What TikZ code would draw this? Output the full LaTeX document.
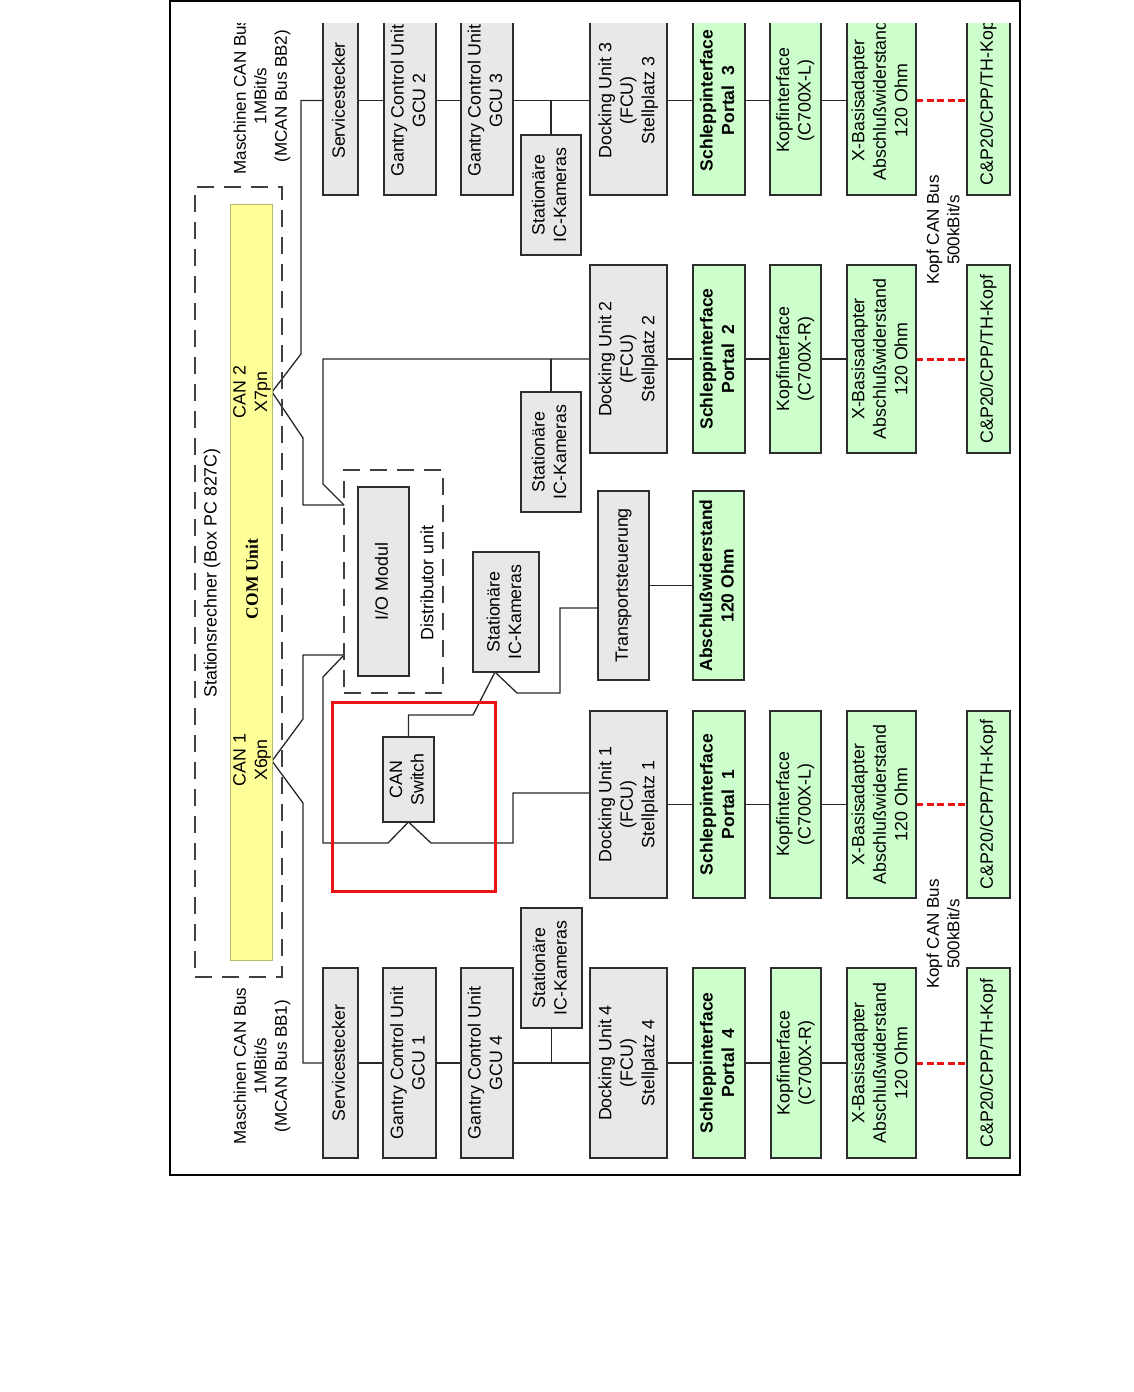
\documentclass[tikz,border=0pt]{standalone}
\usepackage{fontspec}
\usepackage{graphicx}
\setmainfont{Liberation Sans}
\newfontfamily\comfont{Liberation Serif}
\usetikzlibrary{calc}
\pgfdeclarelayer{background}
\pgfsetlayers{background,main}
\definecolor{boxgray}{RGB}{232,232,232}
\definecolor{boxgreen}{RGB}{204,255,204}
\definecolor{comyellow}{RGB}{255,255,153}
\definecolor{comedge}{RGB}{185,185,110}
\definecolor{edgec}{RGB}{45,45,45}
\definecolor{wirec}{RGB}{40,40,40}
\definecolor{busred}{RGB}{235,20,20}
\tikzset{
  base/.style={draw=edgec, line width=1.8pt, inner sep=0pt, outer sep=0pt, rectangle, font=\fontsize{17.8}{21.5}\selectfont},
  gbox/.style={base, fill=boxgray},
  grbox/.style={base, fill=boxgreen},
  grbold/.style={base, fill=boxgreen, font=\fontsize{17.5}{21.5}\selectfont\bfseries},
  wire/.style={draw=wirec, line width=1.3pt},
  kbus/.style={draw=busred, line width=3pt, dash pattern=on 7pt off 3.5pt},
  dashbox/.style={draw=black!75, line width=1.5pt, dash pattern=on 17pt off 10pt, inner sep=0pt, outer sep=0pt, rectangle},
  lbl/.style={rotate=90, align=center, inner sep=0pt, font=\fontsize{17}{20.5}\selectfont},
  txt/.style={rotate=90, align=center, inner sep=0pt, font=\fontsize{17.8}{21.5}\selectfont},
}
\newcommand\bx[7]{\node[#1, minimum width={#5pt-#3pt}, minimum height={#6pt-#4pt}] (#2) at ({(#3+#5)/2},{(#4+#6)/2}) {\rotatebox{90}{\begin{tabular}{@{}c@{}}#7\end{tabular}}};}
\begin{document}
\begin{tikzpicture}[x=1pt,y=-1pt]
\useasboundingbox (0,0) rectangle (1134,1392);
\draw[black, line width=1.2pt] (170,1) rectangle (1020,1175);
\begin{scope}
\clip (170,23) rectangle (1012,1175);
% Stationsrechner
\node[dashbox, minimum width=87pt, minimum height=790pt] (station) at (238.5,582) {};
\node[draw=comedge, fill=comyellow, line width=0.8pt, rectangle, inner sep=0pt, outer sep=0pt, minimum width=42pt, minimum height=756pt] (com) at (251,582) {};
\node[txt] (stlbl) at (212,573) {Stationsrechner (Box PC 827C)};
\node[txt, font=\fontsize{17.5}{21.5}\comfont\bfseries] (comlbl) at (252,579) {COM Unit};
\node[txt] (can2lbl) at (252,392) {CAN 2\\X7pn};
\node[txt] (can1lbl) at (252,760) {CAN 1\\X6pn};
\coordinate (can2) at (272,392);
\coordinate (can1) at (272,761);
% bus labels
\node[lbl] (bb2lbl) at (262,96) {Maschinen CAN Bus\\1MBit/s\\(MCAN Bus BB2)};
\node[lbl] (bb1lbl) at (262,1066) {Maschinen CAN Bus\\1MBit/s\\(MCAN Bus BB1)};
\node[lbl] (kopf3lbl) at (943,230) {Kopf CAN Bus\\500kBit/s};
\node[lbl] (kopf1lbl) at (943,934) {Kopf CAN Bus\\500kBit/s};
% row BB2 (top)
\bx{gbox}{svc2}{323}{6}{358}{195}{Servicestecker}
\bx{gbox}{gcu2}{384}{6}{436}{195}{Gantry Control Unit\\GCU 2}
\bx{gbox}{gcu3}{461}{6}{513}{195}{Gantry Control Unit\\GCU 3}
\bx{gbox}{cam3}{521}{135}{581}{255}{Stationäre\\IC-Kameras}
\bx{gbox}{du3}{590}{6}{667}{195}{Docking Unit 3\\(FCU)\\Stellplatz 3}
\bx{grbold}{sp3}{693}{6}{745}{195}{Schleppinterface\\Portal\ \ 3}
\bx{grbox}{kf3}{770}{6}{821}{195}{Kopfinterface\\(C700X-L)}
\bx{grbox}{xb3}{847}{6}{916}{195}{X-Basisadapter\\Abschlußwiderstand\\120 Ohm}
\bx{grbox}{cp3}{967}{6}{1010}{195}{C\&P20/CPP/TH-Kopf}
% row 2
\bx{gbox}{cam2}{521}{392}{581}{512}{Stationäre\\IC-Kameras}
\bx{gbox}{du2}{590}{265}{667}{453}{Docking Unit 2\\(FCU)\\Stellplatz 2}
\bx{grbold}{sp2}{693}{265}{745}{453}{Schleppinterface\\Portal\ \ 2}
\bx{grbox}{kf2}{770}{265}{821}{453}{Kopfinterface\\(C700X-R)}
\bx{grbox}{xb2}{847}{265}{916}{453}{X-Basisadapter\\Abschlußwiderstand\\120 Ohm}
\bx{grbox}{cp2}{967}{265}{1010}{453}{C\&P20/CPP/TH-Kopf}
% middle
\node[dashbox, minimum width=99pt, minimum height=223pt] (dist) at (393.5,581.5) {};
\bx{gbox}{io}{358}{487}{409}{676}{I/O Modul}
\node[txt] (distlbl) at (427,583) {Distributor unit};
\coordinate (d2in) at (344,505);
\coordinate (d1in) at (344,655);
\bx{gbox}{cam5}{473}{552}{539}{672}{Stationäre\\IC-Kameras}
\coordinate (c5b) at (495,672);
\bx{gbox}{trans}{598}{491}{649}{680}{Transportsteuerung}
\bx{grbold}{abs}{693}{491}{744}{680}{Abschlußwiderstand\\120 Ohm}
\bx{gbox}{sw}{383}{737}{434}{822}{CAN\\Switch}
\coordinate (j1) at (0,793);
\coordinate (j2) at (0,608);
% row 1
\bx{gbox}{du1}{590}{711}{667}{898}{Docking Unit 1\\(FCU)\\Stellplatz 1}
\bx{grbold}{sp1}{693}{711}{745}{898}{Schleppinterface\\Portal\ \ 1}
\bx{grbox}{kf1}{770}{711}{821}{898}{Kopfinterface\\(C700X-L)}
\bx{grbox}{xb1}{847}{711}{916}{898}{X-Basisadapter\\Abschlußwiderstand\\120 Ohm}
\bx{grbox}{cp1}{967}{711}{1010}{898}{C\&P20/CPP/TH-Kopf}
% row BB1 (bottom)
\bx{gbox}{svc1}{323}{968}{358}{1158}{Servicestecker}
\bx{gbox}{gcu1}{383}{968}{436}{1158}{Gantry Control Unit\\GCU 1}
\bx{gbox}{gcu4}{461}{968}{513}{1158}{Gantry Control Unit\\GCU 4}
\bx{gbox}{cam4}{521}{908}{582}{1028}{Stationäre\\IC-Kameras}
\bx{gbox}{du4}{590}{968}{667}{1158}{Docking Unit 4\\(FCU)\\Stellplatz 4}
\bx{grbold}{sp4}{693}{968}{745}{1158}{Schleppinterface\\Portal\ \ 4}
\bx{grbox}{kf4}{771}{968}{821}{1158}{Kopfinterface\\(C700X-R)}
\bx{grbox}{xb4}{847}{968}{916}{1158}{X-Basisadapter\\Abschlußwiderstand\\120 Ohm}
\bx{grbox}{cp4}{967}{968}{1010}{1158}{C\&P20/CPP/TH-Kopf}
% highlight
\node[draw=busred, line width=3pt, rectangle, inner sep=0pt, outer sep=0pt, minimum width=163pt, minimum height=189pt] (hl) at (413.5,796.5) {};
\end{scope}
\begin{pgfonlayer}{background}
% BB2
\draw[wire] (can2) -- (301,354) |- (svc2.west);
\draw[wire] (svc2) -- (gcu2) -- (gcu3) -- (du3) -- (sp3) -- (kf3) -- (xb3);
\draw[wire] (cam3.north) -- (cam3.north |- du3.west);
\draw[kbus] (xb3) -- (cp3);
% row 2
\draw[wire] (can2) -- (303,438) |- (d2in);
\draw[wire] (d2in) -- (323,484) |- (du2.west);
\draw[wire] (cam2.north) -- (cam2.north |- du2.west);
\draw[wire] (du2) -- (sp2) -- (kf2) -- (xb2);
\draw[kbus] (xb2) -- (cp2);
% CAN1 / switch
\draw[wire] (can1) -- (303,719) |- (d1in);
\draw[wire] (d1in) -- (323,677) |- (388,843) -- (sw.south);
\draw[wire] (sw.south) -- (431,843) -- (513,843) |- (du1.west |- j1);
\draw[wire] (sw.north) -- (408.5,715) -- (473,715) -- (c5b);
\draw[wire] (c5b) -- (517,693) -- (560,693) |- (trans.west |- j2);
\draw[wire] (trans) -- (abs);
\draw[wire] (du1) -- (sp1) -- (kf1) -- (xb1);
\draw[kbus] (xb1) -- (cp1);
% BB1
\draw[wire] (can1) -- (303,803) |- (svc1.west);
\draw[wire] (svc1) -- (gcu1) -- (gcu4) -- (du4) -- (sp4) -- (kf4) -- (xb4);
\draw[wire] (cam4.south) -- (cam4.south |- du4.west);
\draw[kbus] (xb4) -- (cp4);
\end{pgfonlayer}
\end{tikzpicture}
\end{document}
